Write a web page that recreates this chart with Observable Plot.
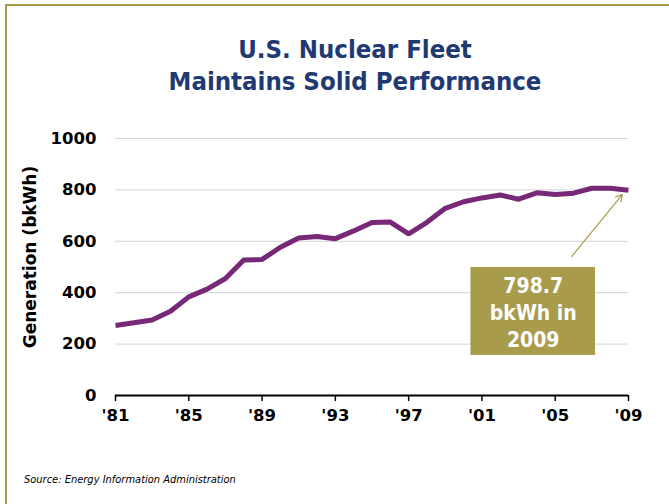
<!DOCTYPE html>
<html>
<head>
<meta charset="utf-8">
<script src="https://cdn.jsdelivr.net/npm/d3@7"></script>
<script src="https://cdn.jsdelivr.net/npm/@observablehq/plot@0.6"></script>
<style>
  html, body { margin: 0; padding: 0; background: #fff; }
  #page { position: relative; width: 669px; height: 504px; overflow: hidden; background: #fff; }
  #frame { position: absolute; left: 5px; top: 4px; width: 800px; height: 700px;
           border-top: 2px solid #a89b4c; border-left: 2px solid #a89b4c; }
  #title { position: absolute; left: 0; width: 710px; top: 33px; text-align: center;
           font-family: "DejaVu Sans Condensed", "DejaVu Sans", sans-serif; font-weight: bold;
           font-size: 25.5px; line-height: 32px; color: #1f3a73; }
  #chart { position: absolute; left: 0; top: 120px; }
  #source { position: absolute; left: 24px; top: 473px; font-family: "DejaVu Sans Condensed", "DejaVu Sans", sans-serif;
            font-style: italic; font-size: 11px; color: #000; }
</style>
</head>
<body>
<div id="page">
  <div id="frame"></div>
  <div id="title">U.S. Nuclear Fleet<br>Maintains Solid Performance</div>
  <div id="chart"></div>
  <div id="source">Source: Energy Information Administration</div>
</div>
<script>
const years = [1981,1982,1983,1984,1985,1986,1987,1988,1989,1990,1991,1992,1993,1994,1995,1996,1997,1998,1999,2000,2001,2002,2003,2004,2005,2006,2007,2008,2009];
const generation = [272.7,282.8,293.7,327.6,383.7,414.0,455.3,527.0,529.4,576.9,612.6,618.8,610.3,640.4,673.4,674.7,628.6,673.7,728.3,753.9,768.8,780.1,763.7,788.5,782.0,787.2,806.4,806.2,798.7];
const xTicks = [1981,1985,1989,1993,1997,2001,2005,2009];
const xTickLabels = ["'81","'85","'89","'93","'97","'01","'05","'09"];
const yTicks = [0,200,400,600,800,1000];
const yLabel = "Generation (bkWh)";
const noteText = "798.7\nbkWh in\n2009";
const noteBox = [{x1: 2000.4, x2: 2007.2, y1: 156, y2: 498}];
const noteTextPos = [{x: 2003.8, y: 327}];
const noteArrow = [{x1: 2005.9, y1: 541, x2: 2008.66, y2: 782}];

const data = years.map((y, i) => ({year: y, value: generation[i]}));
const olive = "#a89b4c";
const font = "'DejaVu Sans', sans-serif";

const chart = Plot.plot({
  width: 669,
  height: 320,
  marginLeft: 115,
  marginRight: 41,
  marginTop: 18,
  marginBottom: 45,
  style: {fontFamily: font, background: "transparent", overflow: "visible"},
  x: {domain: [1981, 2009], axis: null},
  y: {domain: [0, 1000], axis: null},
  marks: [
    Plot.gridY(yTicks.filter(d => d > 0), {stroke: "#d4d4d4", strokeOpacity: 1, strokeWidth: 1}),
    Plot.text(yTicks, {y: d => d, frameAnchor: "left", textAnchor: "end", dx: -19, text: d => String(d),
      fontSize: 16.5, fontWeight: "bold", fill: "#000", fontFamily: font}),
    Plot.text([yLabel], {frameAnchor: "left", textAnchor: "middle", dx: -85, dy: -10, rotate: -90,
      fontSize: 17, fontWeight: "bold", fill: "#000", fontFamily: font}),
    Plot.axisX({ticks: xTicks, tickSize: 6, tickFormat: () => "", label: null, stroke: "#000", strokeWidth: 1.5}),
    Plot.text(xTicks, {x: d => d, frameAnchor: "bottom", dy: 25, text: (d, i) => xTickLabels[i],
      fontSize: 16.5, fontWeight: "bold", fill: "#000", fontFamily: font}),
    Plot.ruleY([0], {stroke: "#000", strokeWidth: 2}),
    Plot.line(data, {x: "year", y: "value", stroke: "#772877", strokeWidth: 5, strokeLinejoin: "miter", strokeLinecap: "butt"}),
    Plot.rect(noteBox, {x1: "x1", x2: "x2", y1: "y1", y2: "y2", fill: olive}),
    Plot.text(noteTextPos, {x: "x", y: "y", text: () => noteText, fill: "#fff", fontSize: 21, fontWeight: "bold", lineHeight: 1.3,
      fontFamily: "'DejaVu Sans Condensed', 'DejaVu Sans', sans-serif"}),
    Plot.arrow(noteArrow, {x1: "x1", y1: "y1", x2: "x2", y2: "y2", stroke: olive, strokeWidth: 1.2, headLength: 9})
  ]
});
document.getElementById("chart").appendChild(chart);
</script>
</body>
</html>
